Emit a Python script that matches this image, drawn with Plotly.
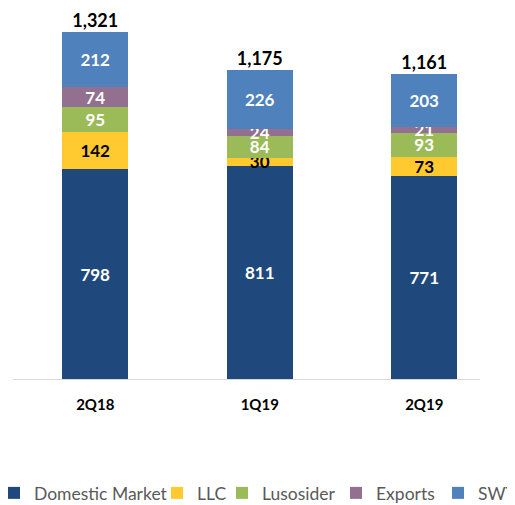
import plotly.graph_objects as go

categories = ["2Q18", "1Q19", "2Q19"]
domestic = [798, 811, 771]
llc = [142, 30, 73]
lusosider = [95, 84, 93]
exports = [74, 24, 21]
swt = [212, 226, 203]
totals = [1321, 1175, 1161]
total_labels = ["1,321", "1,175", "1,161"]

series = [
    ("Domestic Market", domestic, "#1F497D", "white"),
    ("LLC", llc, "#FFC92F", "black"),
    ("Lusosider", lusosider, "#9BBB59", "white"),
    ("Exports", exports, "#93708F", "white"),
    ("SWT", swt, "#4F81BD", "white"),
]
# left pixel position (figure coords) of each legend entry box
legend_px = [-14, 149, 214, 328, 430]

FONT = "Lato"
W, H = 515, 505
ML, MR, MT, MB = 5, 43, 2, 134
PW, PH = W - ML - MR, H - MT - MB

fig = go.Figure()
for i, (name, vals, color, tcolor) in enumerate(series):
    lg = "legend" if i == 0 else f"legend{i+1}"
    fig.add_trace(go.Bar(
        name=name, x=categories, y=vals,
        marker=dict(color=color, line=dict(width=0)),
        text=[str(v) for v in vals],
        textposition="inside", insidetextanchor="middle", textangle=0,
        textfont=dict(family=FONT, size=17, color=tcolor, weight="bold"),
        width=0.40, legend=lg,
    ))

fig.add_trace(go.Scatter(
    x=categories, y=totals, mode="text", text=total_labels,
    textposition="top center",
    textfont=dict(family=FONT, size=18, color="black", weight="bold"),
    showlegend=False, hoverinfo="skip",
))

layout_legends = {}
for i, px in enumerate(legend_px):
    key = "legend" if i == 0 else f"legend{i+1}"
    layout_legends[key] = dict(
        orientation="h", xref="paper", yref="paper",
        x=(px - ML) / PW, xanchor="left",
        y=(H - MB - 485) / PH, yanchor="middle",
        font=dict(family=FONT, size=17.5, color="#595959"),
        itemwidth=30, bgcolor="rgba(0,0,0,0)", borderwidth=0,
    )

fig.update_layout(
    width=W, height=H,
    barmode="stack",
    margin=dict(l=ML, r=MR, t=MT, b=MB, autoexpand=False),
    paper_bgcolor="white", plot_bgcolor="white",
    uniformtext=dict(minsize=17, mode="show"),
    font=dict(family=FONT),
    xaxis=dict(
        range=[-0.5, 2.339], showline=True, linecolor="#D9D9D9", linewidth=1,
        ticks="", showgrid=False, ticklabelstandoff=12,
        tickfont=dict(family=FONT, size=15, color="black", weight="bold"),
    ),
    yaxis=dict(range=[0, 1403], visible=False, showgrid=False),
    **layout_legends,
)

fig.write_html("out.html")
